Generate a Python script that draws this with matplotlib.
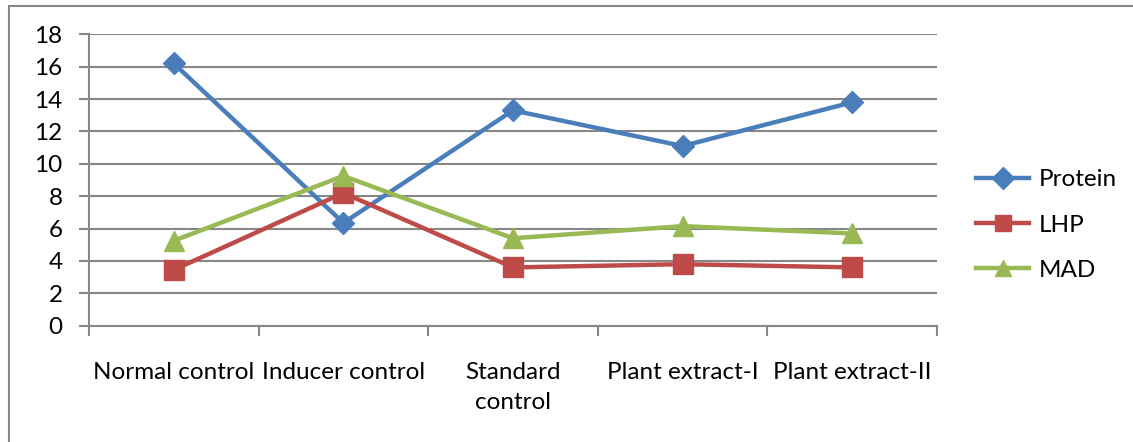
import numpy as np
import matplotlib
import matplotlib.pyplot as plt
from matplotlib.patches import Rectangle

matplotlib.use('agg')

groups = ["Normal control", "Inducer control", "Standard\ncontrol",
          "Plant extract-I", "Plant extract-II"]
protein = [16.2, 6.35, 13.3, 11.1, 13.8]
lhp = [3.45, 8.2, 3.6, 3.8, 3.6]
mad = [5.25, 9.25, 5.4, 6.15, 5.7]

plt.rcParams['font.family'] = ['Lato', 'DejaVu Sans']
fs = 17.5

fig = plt.figure(figsize=(11.33, 4.42), dpi=100)
ax = fig.add_axes([89 / 1133, 1 - 325.7 / 442, 848 / 1133, 291.4 / 442])

# frame around the whole chart area
fig.patches.append(Rectangle((9 / 1133, -0.1), 1.2, 1.1 - 6 / 442,
                             transform=fig.transFigure, fill=False,
                             edgecolor='#878787', linewidth=1.5))

x = np.arange(len(groups))
ax.plot(x, protein, color='#4A7EBB', lw=3.2, marker='D', ms=11,
        label='Protein', zorder=3)
ax.plot(x, lhp, color='#BE4B48', lw=3.2, marker='s', ms=14,
        label='LHP', zorder=3)
ax.plot(x, mad, color='#98B954', lw=3.2, marker='^', ms=14,
        label='MAD', zorder=3)

ax.set_xlim(-0.5, len(groups) - 0.5)
ax.set_ylim(0, 18)
ax.set_yticks(range(0, 19, 2))
ax.yaxis.grid(True, color='#878787', lw=1.5)
ax.set_axisbelow(True)

ax.set_xticks(x)
ax.set_xticklabels(groups, fontsize=fs, linespacing=1.55, va='top')
ax.tick_params(axis='x', length=0, pad=26)
ax.set_xticks(np.arange(len(groups) + 1) - 0.5, minor=True)
ax.tick_params(axis='x', which='minor', length=7, width=1.5,
               color='#878787')
ax.tick_params(axis='y', labelsize=fs, length=7, width=1.5,
               color='#878787', pad=12)

for s in ['top', 'right']:
    ax.spines[s].set_visible(False)
for s in ['left', 'bottom']:
    ax.spines[s].set_color('#878787')
    ax.spines[s].set_linewidth(1.5)

leg = ax.legend(loc='center left', bbox_to_anchor=(1.02, 0.345),
                frameon=False, fontsize=fs, handlelength=2.2,
                labelspacing=1.0, handletextpad=0.4)
for h in leg.legend_handles:
    h.set_markersize(11)

fig.savefig('out.png', dpi=100)
